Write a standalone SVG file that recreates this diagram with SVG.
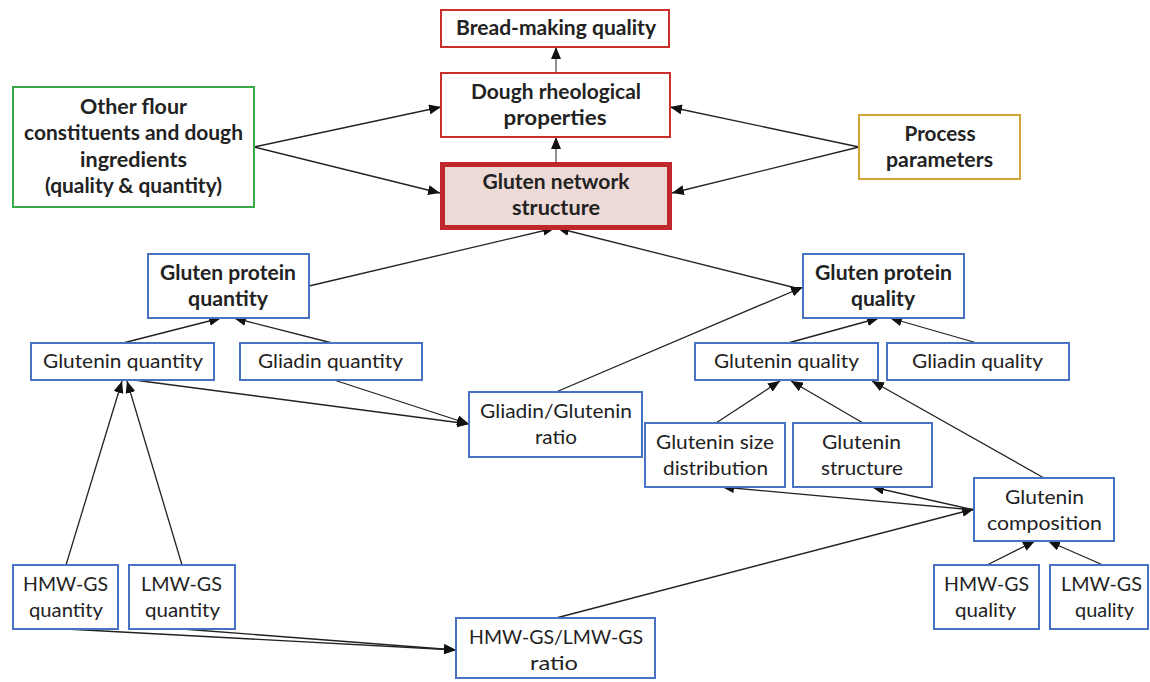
<svg xmlns="http://www.w3.org/2000/svg" width="1150" height="682" viewBox="0 0 1150 682">
<defs>
<style>
.box{fill:#fff;stroke-width:2}
.blue{stroke:#4a72c4}
.red{stroke:#c9302c}
.green{stroke:#3aaa48}
.gold{stroke:#d1a338}
.t{font-family:Lato,"Liberation Sans",sans-serif;font-size:20px;fill:#222;text-anchor:middle}
.b{font-weight:bold}
.c{stroke:#222;stroke-width:1.3;fill:none;marker-end:url(#ah)}
</style>
<marker id="ah" markerUnits="userSpaceOnUse" markerWidth="12" markerHeight="10" refX="12" refY="5" orient="auto">
<path d="M0,0 L12,5 L0,10 z" fill="#111"/>
</marker>
</defs>
<rect width="1150" height="682" fill="#fff"/>
<g id="connectors">
<line class="c" x1="556" y1="137" x2="556" y2="47" style="stroke:#555"/>
<line class="c" x1="556" y1="162" x2="556" y2="137" style="stroke:#555"/>
<line class="c" x1="254" y1="147" x2="441" y2="107"/>
<line class="c" x1="254" y1="147" x2="440" y2="193"/>
<line class="c" x1="859" y1="147" x2="670" y2="107"/>
<line class="c" x1="859" y1="147" x2="672" y2="193"/>
<line class="c" x1="309" y1="286" x2="555" y2="228"/>
<line class="c" x1="800" y1="289" x2="557" y2="228"/>
<line class="c" x1="556" y1="392" x2="803" y2="287"/>
<line class="c" x1="123" y1="343" x2="221" y2="318"/>
<line class="c" x1="332" y1="343" x2="234" y2="318"/>
<line class="c" x1="134" y1="380" x2="469" y2="424"/>
<line class="c" x1="334" y1="380" x2="469" y2="424"/>
<line class="c" x1="66" y1="565" x2="122" y2="381"/>
<line class="c" x1="182" y1="565" x2="127" y2="381"/>
<line class="c" x1="66" y1="629" x2="456" y2="650"/>
<line class="c" x1="182" y1="629" x2="456" y2="650"/>
<line class="c" x1="556" y1="618" x2="974" y2="509"/>
<line class="c" x1="974" y1="510" x2="722" y2="487"/>
<line class="c" x1="974" y1="510" x2="872" y2="487"/>
<line class="c" x1="1044" y1="478" x2="872" y2="381"/>
<line class="c" x1="788" y1="343" x2="879" y2="318"/>
<line class="c" x1="977" y1="343" x2="890" y2="318"/>
<line class="c" x1="716" y1="423" x2="780" y2="381"/>
<line class="c" x1="863" y1="423" x2="791" y2="381"/>
<line class="c" x1="987" y1="565" x2="1035" y2="541"/>
<line class="c" x1="1103" y1="565" x2="1048" y2="541"/>
</g>
<g id="bread">
<rect class="box red" x="441" y="10" width="228" height="37"/>
<text class="t b" x="556" y="35" textLength="200" lengthAdjust="spacingAndGlyphs">Bread-making quality</text>
</g>
<g id="dough">
<rect class="box red" x="441" y="73" width="229" height="64"/>
<text class="t b" x="556" y="99" textLength="170" lengthAdjust="spacingAndGlyphs">Dough rheological</text>
<text class="t b" x="555" y="125" textLength="103" lengthAdjust="spacingAndGlyphs">properties</text>
</g>
<g id="gluten-network">
<rect x="442.5" y="164.5" width="227" height="63" fill="#edd9d6" stroke="#c0272d" stroke-width="5"/>
<text class="t b" x="556" y="189" textLength="147" lengthAdjust="spacingAndGlyphs">Gluten network</text>
<text class="t b" x="556" y="215" textLength="88" lengthAdjust="spacingAndGlyphs">structure</text>
</g>
<g id="other-flour">
<rect class="box green" x="13" y="87" width="241" height="120"/>
<text class="t b" x="133.5" y="113.5" textLength="107" lengthAdjust="spacingAndGlyphs">Other flour</text>
<text class="t b" x="133.5" y="140" textLength="219" lengthAdjust="spacingAndGlyphs">constituents and dough</text>
<text class="t b" x="133.5" y="166.5" textLength="107" lengthAdjust="spacingAndGlyphs">ingredients</text>
<text class="t b" x="133.5" y="193" textLength="177" lengthAdjust="spacingAndGlyphs">(quality &amp; quantity)</text>
</g>
<g id="process">
<rect class="box gold" x="859" y="115" width="161" height="64"/>
<text class="t b" x="940" y="141" textLength="71" lengthAdjust="spacingAndGlyphs">Process</text>
<text class="t b" x="939.5" y="167" textLength="107" lengthAdjust="spacingAndGlyphs">parameters</text>
</g>
<g id="gp-quantity">
<rect class="box blue" x="148" y="254" width="161" height="64"/>
<text class="t b" x="228" y="280" textLength="136" lengthAdjust="spacingAndGlyphs">Gluten protein</text>
<text class="t b" x="228" y="306" textLength="80" lengthAdjust="spacingAndGlyphs">quantity</text>
</g>
<g id="gp-quality">
<rect class="box blue" x="803" y="254" width="161" height="64"/>
<text class="t b" x="883.5" y="280" textLength="137" lengthAdjust="spacingAndGlyphs">Gluten protein</text>
<text class="t b" x="883" y="306" textLength="64" lengthAdjust="spacingAndGlyphs">quality</text>
</g>
<g id="glutenin-quantity">
<rect class="box blue" x="31" y="343" width="183" height="37"/>
<text class="t" x="123" y="368" textLength="160" lengthAdjust="spacingAndGlyphs">Glutenin quantity</text>
</g>
<g id="gliadin-quantity">
<rect class="box blue" x="240" y="343" width="182" height="37"/>
<text class="t" x="330.5" y="368" textLength="145" lengthAdjust="spacingAndGlyphs">Gliadin quantity</text>
</g>
<g id="glutenin-quality">
<rect class="box blue" x="695" y="343" width="183" height="37"/>
<text class="t" x="786.5" y="368" textLength="145" lengthAdjust="spacingAndGlyphs">Glutenin quality</text>
</g>
<g id="gliadin-quality">
<rect class="box blue" x="887" y="343" width="182" height="37"/>
<text class="t" x="977.5" y="368" textLength="131" lengthAdjust="spacingAndGlyphs">Gliadin quality</text>
</g>
<g id="gg-ratio">
<rect class="box blue" x="469" y="392" width="173" height="65"/>
<text class="t" x="556" y="418" textLength="152" lengthAdjust="spacingAndGlyphs">Gliadin/Glutenin</text>
<text class="t" x="556" y="444" textLength="42" lengthAdjust="spacingAndGlyphs">ratio</text>
</g>
<g id="size-distribution">
<rect class="box blue" x="645" y="423" width="140" height="64"/>
<text class="t" x="715" y="449" textLength="118" lengthAdjust="spacingAndGlyphs">Glutenin size</text>
<text class="t" x="715.5" y="475" textLength="105" lengthAdjust="spacingAndGlyphs">distribution</text>
</g>
<g id="glutenin-structure">
<rect class="box blue" x="793" y="423" width="139" height="64"/>
<text class="t" x="861.5" y="449" textLength="79" lengthAdjust="spacingAndGlyphs">Glutenin</text>
<text class="t" x="862" y="475" textLength="82" lengthAdjust="spacingAndGlyphs">structure</text>
</g>
<g id="glutenin-composition">
<rect class="box blue" x="974" y="478" width="140" height="63"/>
<text class="t" x="1044.5" y="504" textLength="79" lengthAdjust="spacingAndGlyphs">Glutenin</text>
<text class="t" x="1044.5" y="530" textLength="115" lengthAdjust="spacingAndGlyphs">composition</text>
</g>
<g id="hmw-quantity">
<rect class="box blue" x="13" y="565" width="105" height="64"/>
<text class="t" x="65.5" y="591" textLength="85" lengthAdjust="spacingAndGlyphs">HMW-GS</text>
<text class="t" x="66" y="617" textLength="74" lengthAdjust="spacingAndGlyphs">quantity</text>
</g>
<g id="lmw-quantity">
<rect class="box blue" x="129" y="565" width="106" height="64"/>
<text class="t" x="181.5" y="591" textLength="81" lengthAdjust="spacingAndGlyphs">LMW-GS</text>
<text class="t" x="182.5" y="617" textLength="75" lengthAdjust="spacingAndGlyphs">quantity</text>
</g>
<g id="hl-ratio">
<rect class="box blue" x="456" y="618" width="199" height="60"/>
<text class="t" x="556" y="644" textLength="174" lengthAdjust="spacingAndGlyphs">HMW-GS/LMW-GS</text>
<text class="t" x="554" y="670" textLength="48" lengthAdjust="spacingAndGlyphs">ratio</text>
</g>
<g id="hmw-quality">
<rect class="box blue" x="934" y="565" width="105" height="64"/>
<text class="t" x="986.5" y="591" textLength="85" lengthAdjust="spacingAndGlyphs">HMW-GS</text>
<text class="t" x="985.5" y="617" textLength="61" lengthAdjust="spacingAndGlyphs">quality</text>
</g>
<g id="lmw-quality">
<rect class="box blue" x="1050" y="565" width="98" height="64"/>
<text class="t" x="1101.5" y="591" textLength="81" lengthAdjust="spacingAndGlyphs">LMW-GS</text>
<text class="t" x="1104.5" y="617" textLength="59" lengthAdjust="spacingAndGlyphs">quality</text>
</g>
</svg>
